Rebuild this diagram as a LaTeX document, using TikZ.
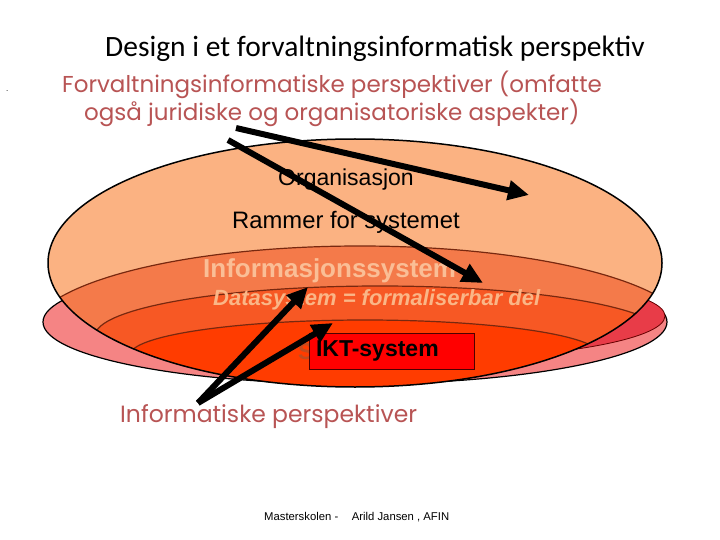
\documentclass[tikz,border=0pt]{standalone}
\usepackage{fontspec}
\setmainfont{Liberation Sans}
\newfontfamily\titlefont{Carlito}
\newfontfamily\comicfont{Poppins}
\usetikzlibrary{arrows.meta}
\definecolor{peach}{RGB}{251,178,130}
\definecolor{infol}{RGB}{244,122,74}
\definecolor{datal}{RGB}{247,88,36}
\definecolor{iktl}{RGB}{255,60,0}
\definecolor{pinkl}{RGB}{245,132,132}
\definecolor{redl}{RGB}{232,60,72}
\definecolor{brownline}{RGB}{120,40,15}
\definecolor{comicred}{RGB}{184,84,84}
\definecolor{infotext}{RGB}{250,190,150}
\definecolor{datatext}{RGB}{250,182,135}
\definecolor{hiddens}{RGB}{195,75,30}
\begin{document}
\begin{tikzpicture}[x=1pt,y=-1pt,
  bigarrow/.style={line width=6pt,-{Triangle[length=21pt,width=19pt]}},
  lbl/.style={inner sep=0pt,anchor=base west},
  comic/.style={lbl,font=\comicfont\fontsize{23}{26}\selectfont,text=comicred},
  layer/.style={draw=brownline,line width=1.2pt}]
\useasboundingbox (0,0) rectangle (720,540);
\fill[white] (0,0) rectangle (720,540);
% back ellipses
\filldraw[fill=pinkl,draw=black,line width=1.2pt] (355,322) ellipse [x radius=312pt,y radius=62pt];
\filldraw[fill=redl,draw=black!60!red,line width=0.8pt] (405,316) ellipse [x radius=260pt,y radius=44pt];
% main peach ellipse
\fill[peach] (355,263) ellipse [x radius=307pt,y radius=124pt];
\begin{scope}
  \clip (355,263) ellipse [x radius=307pt,y radius=124pt];
  \filldraw[layer,fill=infol] (360,334) ellipse [x radius=330pt,y radius=88pt];
  \filldraw[layer,fill=datal] (380,336) ellipse [x radius=285pt,y radius=50pt];
  \filldraw[layer,fill=iktl] (365,355) ellipse [x radius=235pt,y radius=35pt];
\end{scope}
\draw[black,line width=1.5pt] (355,263) ellipse [x radius=307pt,y radius=124pt];
% texts
\node[lbl,font=\titlefont\fontsize{29.5}{33}\selectfont] (title) at (105,57) {Design i et forvaltningsinformatisk perspektiv};
\node[lbl,font=\fontsize{8}{9}\selectfont] (dot) at (6,92) {.};
\node[comic] (fp1) at (62,93) {Forvaltningsinformatiske perspektiver (omfatte};
\node[comic] (fp2) at (84,121) {også juridiske og organisatoriske aspekter)};
\node[lbl,font=\fontsize{23}{26}\selectfont] (org) at (278,186) {Organisasjon};
\node[lbl,font=\fontsize{23.8}{27}\selectfont] (ram) at (232,229) {Rammer for systemet};
\node[lbl,font=\bfseries\fontsize{26}{30}\selectfont,text=infotext] (info) at (203,277) {Informasjonssystem};
\node[lbl,font=\bfseries\itshape\fontsize{22}{26}\selectfont,text=datatext] (data) at (213,305) {Datasystem = formaliserbar del};
\node[lbl,font=\bfseries\fontsize{23}{26}\selectfont,text=hiddens] (hs) at (298,359) {S};
\node[draw=black!70!red,line width=0.8pt,fill=red,text width=151pt,inner xsep=7pt,inner ysep=0pt,
      minimum height=36pt,align=left,font=\bfseries\fontsize{23}{26}\selectfont] (ikt) at (391.5,351) {IKT-system};
\node[comic,font=\comicfont\fontsize{23.5}{26}\selectfont] (ip) at (120,422) {Informatiske perspektiver};
\node[lbl,font=\fontsize{11.3}{13}\selectfont] (foot) at (264,520) {Masterskolen -\hspace{1.2em}Arild Jansen , AFIN};
% arrows
\coordinate (a1s) at (236,128);
\coordinate (a1e) at (529,195);
\coordinate (a2s) at (228,140);
\coordinate (a2e) at (483,283);
\coordinate (bs) at (198,403);
\coordinate (a3e) at (308,287);
\coordinate (a4e) at (333,323);
\draw[bigarrow] (a1s) -- (a1e);
\draw[bigarrow] (a2s) -- (a2e);
\draw[bigarrow] (bs) -- (a3e);
\draw[bigarrow] (bs) -- (a4e);
\end{tikzpicture}
\end{document}
